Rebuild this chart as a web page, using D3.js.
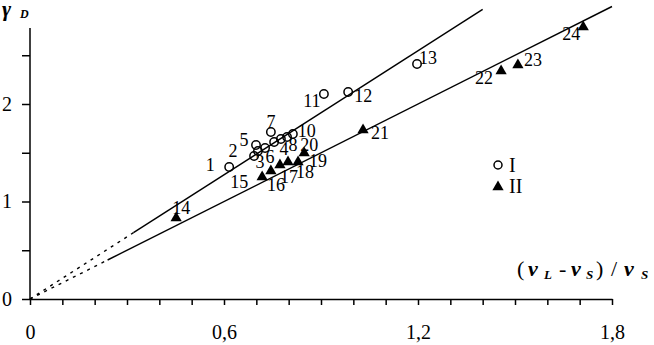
<!DOCTYPE html>
<html lang="en">
<head>
<meta charset="utf-8" />
<title>gamma D chart</title>
<script src="https://d3js.org/d3.v7.min.js"></script>
<style>
  body { margin: 0; background: #fff; }
  svg text { font-family: "Liberation Serif", "Times New Roman", Times, "DejaVu Serif", serif; fill: #000; }
  .axis path, .axis line { stroke: #000; stroke-width: 1.5px; }
  .fit { fill: none; stroke: #000; stroke-width: 1.4px; }
  .fit.dash { stroke-dasharray: 3,5; }
</style>
</head>
<body>
<script>
// series I (open circles)
var idI = ["1","2","3","4","5","6","7","8","","10","11","12","13"];
var xI  = [0.616, 0.693, 0.705, 0.755, 0.699, 0.727, 0.745, 0.776, 0.795, 0.813, 0.909, 0.984, 1.197];
var yI  = [1.354, 1.467, 1.518, 1.610, 1.579, 1.549, 1.713, 1.641, 1.662, 1.692, 2.103, 2.123, 2.410];

// series II (filled triangles)
var idII = ["14","15","16","17","18","19","20","21","22","23","24"];
var xII  = [0.452, 0.718, 0.745, 0.773, 0.798, 0.829, 0.848, 1.030, 1.457, 1.509, 1.711];
var yII  = [0.831, 1.251, 1.313, 1.374, 1.405, 1.405, 1.497, 1.733, 2.338, 2.400, 2.790];

// fitted lines: dotted part from origin, then solid
var lineIx  = [0, 0.32, 1.40];
var lineIy  = [0, 0.68, 2.97];
var lineIIx = [0, 0.24, 1.80];
var lineIIy = [0, 0.40, 3.00];

var xTicks = d3.range(0, 19).map(function(i) { return i / 10; });
var xLabels = [0, 0.6, 1.2, 1.8];
var yTicks = [0, 0.5, 1, 1.5, 2, 2.5];
var yLabels = [0, 1, 2];

// label offsets (px) from each marker
var offI  = [[-19,-2],[-21,-5],[2,11],[10,7],[-12,-5],[5,9],[0,-10],[12,6],[0,0],[14,-3],[-12,7],[15,4],[11,-6]];
var offII = [[5,-10],[-23,5],[5,14],[9,12],[17,10],[20,-1],[5,-8],[17,3],[-17,7],[15,-5],[-12,7]];

var W = 654, H = 345;
var x = d3.scaleLinear().domain([0, 1.8]).range([30, 612]);
var y = d3.scaleLinear().domain([0, 2.78]).range([299, 299 - 2.78 * 97.5]);

var svg = d3.select("body").append("svg")
    .attr("width", W)
    .attr("height", H);

var fmt = function(d) { return String(d).replace(".", ","); };

// x axis
var gx = svg.append("g")
    .attr("class", "axis")
    .attr("transform", "translate(0," + y(0) + ")")
    .call(d3.axisBottom(x).tickValues(xTicks).tickSize(6).tickSizeOuter(0)
      .tickFormat(function(d) { return xLabels.some(function(v) { return Math.abs(v - d) < 1e-9; }) ? fmt(+d.toFixed(1)) : ""; }));
gx.attr("font-family", null).attr("font-size", null);
gx.selectAll("text").attr("font-size", 20).attr("dy", "1.55em");

// y axis
var gy = svg.append("g")
    .attr("class", "axis")
    .attr("transform", "translate(" + x(0) + ",0)")
    .call(d3.axisLeft(y).tickValues(yTicks).tickSize(8).tickSizeOuter(0)
      .tickFormat(function(d) { return yLabels.indexOf(d) >= 0 ? fmt(d) : ""; }));
gy.attr("font-family", null).attr("font-size", null);
gy.select(".domain").attr("d", "M0," + y(0) + "V" + y(2.78));
gy.selectAll("text").attr("font-size", 20).attr("x", -18);

// fitted lines
var line = d3.line().x(function(d) { return x(d[0]); }).y(function(d) { return y(d[1]); });
[[lineIx, lineIy], [lineIIx, lineIIy]].forEach(function(l) {
  svg.append("path").attr("class", "fit dash")
      .attr("d", line([[l[0][0], l[1][0]], [l[0][1], l[1][1]]]));
  svg.append("path").attr("class", "fit")
      .attr("d", line([[l[0][1], l[1][1]], [l[0][2], l[1][2]]]));
});

// series I markers
svg.selectAll(".c1").data(xI).enter().append("circle")
    .attr("cx", function(d) { return x(d); })
    .attr("cy", function(d, i) { return y(yI[i]); })
    .attr("r", 4.2)
    .attr("fill", "none")
    .attr("stroke", "#000")
    .attr("stroke-width", 1.5);

// series II markers
var tri = d3.symbol().type(d3.symbolTriangle).size(55);
svg.selectAll(".t2").data(xII).enter().append("path")
    .attr("d", tri)
    .attr("transform", function(d, i) { return "translate(" + x(d) + "," + y(yII[i]) + ")"; })
    .attr("fill", "#000");

// point labels
function labels(ids, xs, ys, offs) {
  svg.append("g").selectAll("text").data(ids).enter().append("text")
      .attr("x", function(d, i) { return x(xs[i]) + offs[i][0]; })
      .attr("y", function(d, i) { return y(ys[i]) + offs[i][1]; })
      .attr("text-anchor", "middle")
      .attr("dominant-baseline", "central")
      .attr("font-size", 18)
      .text(function(d) { return d; });
}
labels(idI, xI, yI, offI);
labels(idII, xII, yII, offII);

// legend
svg.append("circle").attr("cx", 498).attr("cy", 165).attr("r", 4)
    .attr("fill", "none").attr("stroke", "#000").attr("stroke-width", 1.5);
svg.append("text").attr("x", 509).attr("y", 172).attr("font-size", 20).text("I");
svg.append("path").attr("d", tri).attr("transform", "translate(498,187)").attr("fill", "#000");
svg.append("text").attr("x", 509).attr("y", 193).attr("font-size", 20).text("II");

// axis titles
var yt = svg.append("text").attr("y", 16).attr("font-style", "italic").attr("font-weight", "bold");
yt.append("tspan").attr("x", 2).attr("font-size", 22).text("γ");
yt.append("tspan").attr("x", 20).attr("dy", 2).attr("font-size", 12).text("D");

// x title glyphs placed one by one to match the wide spacing
var xt = svg.append("text").attr("y", 276).attr("font-size", 22);
function part(t, px, sub, it) {
  var s = xt.append("tspan").attr("x", px).text(t);
  if (it) s.attr("font-style", "italic").attr("font-weight", "bold");
  if (sub) s.attr("font-size", 13).attr("y", 279);
  else s.attr("y", 276);
  return s;
}
part("(", 517, false, false);
part("v", 528, false, true);
part("L", 544, true, true);
part("-", 559, false, false);
part("v", 571, false, true);
part("S", 586, true, true);
part(")", 596, false, false);
part("/", 611, false, false);
part("v", 624, false, true);
part("S", 641, true, true);
</script>
</body>
</html>
